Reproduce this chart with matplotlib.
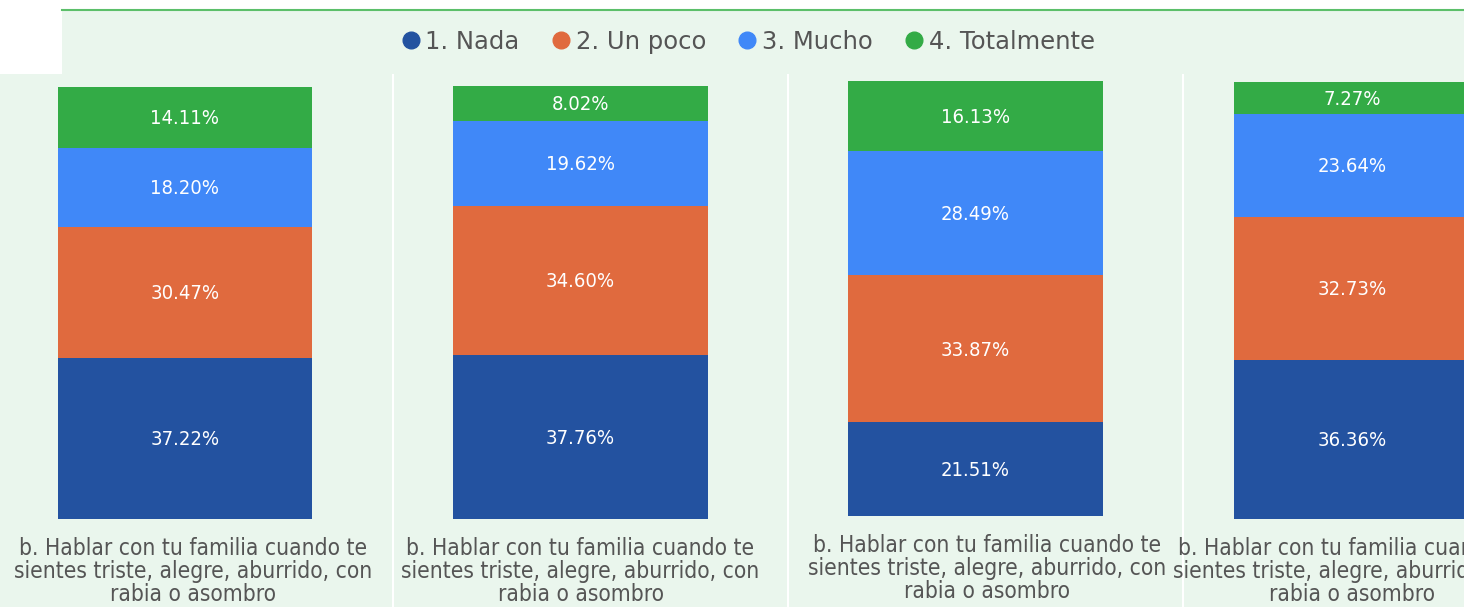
import matplotlib.pyplot as plt
from matplotlib.lines import Line2D
from matplotlib.patches import Rectangle

# data
series = ['1. Nada', '2. Un poco', '3. Mucho', '4. Totalmente']
colors = ['#2352a0', '#e06a3e', '#4088f8', '#33ab46']
category = 'b. Hablar con tu familia cuando te\nsientes triste, alegre, aburrido, con\nrabia o asombro'
nada = [37.22, 37.76, 21.51, 36.36]
un_poco = [30.47, 34.60, 33.87, 32.73]
mucho = [18.20, 19.62, 28.49, 23.64]
totalmente = [14.11, 8.02, 16.13, 7.27]

W, H = 1464, 607
bg = '#eaf6ed'
fig = plt.figure(figsize=(W / 100, H / 100), dpi=100)
fig.patch.set_facecolor(bg)


def fx(px):
    return px / W


def fy(py):
    return 1 - py / H


# top white strip, green rule and white corner box
fig.patches.append(Rectangle((0, fy(10)), 1, 10 / H, transform=fig.transFigure,
                             facecolor='white', edgecolor='none', zorder=0))
fig.add_artist(Line2D([fx(62), 1], [fy(10), fy(10)], color='#5cbf6a', lw=1.5))
fig.patches.append(Rectangle((0, fy(74)), fx(62), 74 / H, transform=fig.transFigure,
                             facecolor='white', edgecolor='none', zorder=1))

# panel separators
for x in [393, 788, 1183]:
    fig.add_artist(Line2D([fx(x), fx(x)], [fy(75), 0], color='white', lw=1.5))

# bar boxes in pixels: left, right, top, bottom
boxes = [(58, 312, 87, 519), (453, 708, 86, 519), (848, 1103, 81, 516), (1234, 1470, 82, 519)]
label_y = [549, 549, 546, 549]

stack = [nada, un_poco, mucho, totalmente]
for i, (l, r, t, b) in enumerate(boxes):
    ax = fig.add_axes([fx(l), fy(b), fx(r - l), (b - t) / H])
    ax.set_xlim(-0.5, 0.5)
    ax.set_ylim(0, 100)
    ax.axis('off')
    bottom = 0
    for vals, c in zip(stack, colors):
        v = vals[i]
        ax.bar(0, v, width=1.0, bottom=bottom, color=c, edgecolor='none')
        ax.text(0, bottom + v / 2 - 0.3, f'{v:.2f}%', ha='center', va='center',
                color='white', fontsize=14.5, family='DejaVu Sans', stretch='condensed')
        bottom += v
    cx = (l + r) / 2 + (8 if i == 0 else 0) + (12 if i == 2 else 0)
    fig.text(fx(cx), fy(label_y[i] - 12), category, ha='center', va='top',
             color='#555555', fontsize=16.3, family='DejaVu Sans', stretch='condensed',
             linespacing=1.0)

handles = [Line2D([], [], marker='o', ls='none', markersize=12, color=c) for c in colors]
leg = fig.legend(handles, series, loc='center', bbox_to_anchor=(fx(746), fy(42)), ncol=4,
                 frameon=False, handletextpad=0.05, columnspacing=1.15, handlelength=1.1,
                 prop={'family': 'DejaVu Sans', 'size': 17.5})
for txt in leg.get_texts():
    txt.set_color('#555555')

plt.savefig('out.png', dpi=100, facecolor=bg)
